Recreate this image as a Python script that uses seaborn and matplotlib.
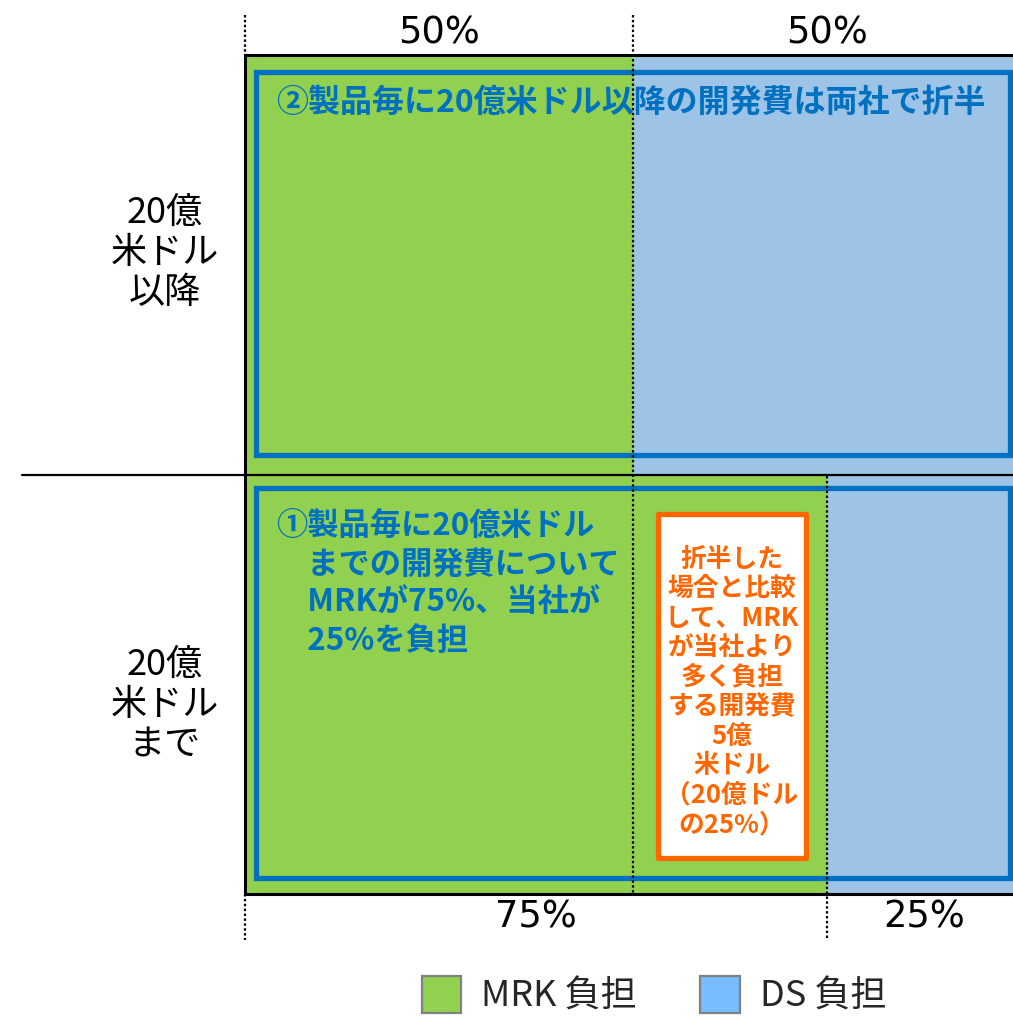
import matplotlib
matplotlib.use("Agg")
import matplotlib.pyplot as plt
import pandas as pd
import seaborn as sns
from matplotlib.patches import Patch, Rectangle

# data
rows = ["20億\n米ドル\n以降", "20億\n米ドル\nまで"]
mrk_share = [50, 75]
ds_share = [50, 25]
series_names = ["MRK 負担", "DS 負担"]

top_note = "②製品毎に20億米ドル以降の開発費は両社で折半"
bottom_note = "①製品毎に20億米ドル\n　までの開発費について\n　MRKが75%、当社が\n　25%を負担"
diff_note = "折半した\n場合と比較\nして、MRK\nが当社より\n多く負担\nする開発費\n5億\n米ドル\n（20億ドル\nの25%）"

GREEN = "#92D050"
BLUE = "#9DC3E6"
LEG_BLUE = "#75BDFF"
DARK_BLUE = "#0070C0"
ORANGE = "#FF6600"

sns.set_theme(style="white")
plt.rcParams["font.family"] = ["Noto Sans CJK JP", "DejaVu Sans"]

W, H = 1013, 1017
fig = plt.figure(figsize=(W / 100, H / 100), dpi=100)
# axes spans px 245..1021 horizontally, 55..894 vertically
ax = fig.add_axes([245 / W, (H - 894) / H, 776 / W, 839 / H])

df = pd.DataFrame({"row": rows, "mrk": mrk_share, "ds": ds_share})
df["total"] = df["mrk"] + df["ds"]
sns.barplot(data=df, x="total", y="row", color=BLUE, width=1, linewidth=0,
            saturation=1, orient="h", ax=ax)
sns.barplot(data=df, x="mrk", y="row", color=GREEN, width=1, linewidth=0,
            saturation=1, orient="h", ax=ax)
ax.set_xlim(0, 100)
ax.set_ylim(1.5, -0.5)
ax.set_xlabel("")
ax.set_ylabel("")
ax.set_xticks([])
ax.set_yticks([])
for side in ["top", "bottom", "left"]:
    ax.spines[side].set_color("black")
    ax.spines[side].set_linewidth(2.2)
ax.spines["right"].set_visible(False)


def py(p):
    return -0.5 + (p - 55) * 2 / 839


def px(p):
    return (p - 245) / 776 * 100


# blue outline boxes
ax.add_patch(Rectangle((px(256), py(72)), px(1010) - px(256), py(455) - py(72),
                       fill=False, edgecolor=DARK_BLUE, lw=3.8, zorder=3))
ax.add_patch(Rectangle((px(256), py(488)), px(1010) - px(256), py(878) - py(488),
                       fill=False, edgecolor=DARK_BLUE, lw=3.8, zorder=3))
# orange highlight box
ax.add_patch(Rectangle((px(658), py(514)), px(806) - px(658), py(858) - py(514),
                       facecolor="white", edgecolor=ORANGE, lw=3.8,
                       joinstyle="round", zorder=4))

# middle separator
ax.plot([px(22), 100], [0.5, 0.5], color="black", lw=1.6, clip_on=False, zorder=5)

# dotted boundaries
dots = dict(color="black", lw=1.6, ls=(0, (1.1, 1.1)), clip_on=False, zorder=6)
ax.plot([0, 0], [py(15), -0.5], **dots)
ax.plot([0, 0], [1.5, py(940)], **dots)
ax.plot([mrk_share[0]] * 2, [py(15), 1.5], **dots)
ax.plot([mrk_share[1]] * 2, [py(476), py(940)], **dots)

# share labels
pct = dict(ha="center", va="center", fontsize=26.5, color="black", clip_on=False,
           family=["DejaVu Sans"])
ax.text(mrk_share[0] / 2, py(33), f"{mrk_share[0]}%", **pct)
ax.text(mrk_share[0] + ds_share[0] / 2, py(33), f"{ds_share[0]}%", **pct)
ax.text(mrk_share[1] / 2, py(917), f"{mrk_share[1]}%", **pct)
ax.text(mrk_share[1] + ds_share[1] / 2, py(917), f"{ds_share[1]}%", **pct)

# row labels
ax.text(px(165), py(253), rows[0], ha="center", va="center", fontsize=26,
        linespacing=1.15, color="black")
ax.text(px(165), py(705), rows[1], ha="center", va="center", fontsize=26,
        linespacing=1.15, color="black")

# notes
ax.text(px(276), py(103), top_note, ha="left", va="center", fontsize=23,
        fontweight="bold", color=DARK_BLUE, zorder=5)
ax.text(px(276), py(510), bottom_note, ha="left", va="top", fontsize=22.5,
        fontweight="bold", color=DARK_BLUE, linespacing=1.25, zorder=5)
ax.text(px(732), py(692), diff_note, ha="center", va="center", fontsize=18.5,
        fontweight="bold", color=ORANGE, linespacing=1.12, zorder=5)

handles = [Patch(facecolor=GREEN, edgecolor="#808080", lw=1.6),
           Patch(facecolor=LEG_BLUE, edgecolor="#808080", lw=1.6)]
fig.legend(handles, series_names, loc="center", bbox_to_anchor=(654 / W, 1 - 995 / H),
           ncol=2, frameon=False, fontsize=26, handlelength=1.1, handleheight=1.2,
           handletextpad=0.55, columnspacing=1.75, borderpad=0)

fig.savefig("out.png", dpi=100)
